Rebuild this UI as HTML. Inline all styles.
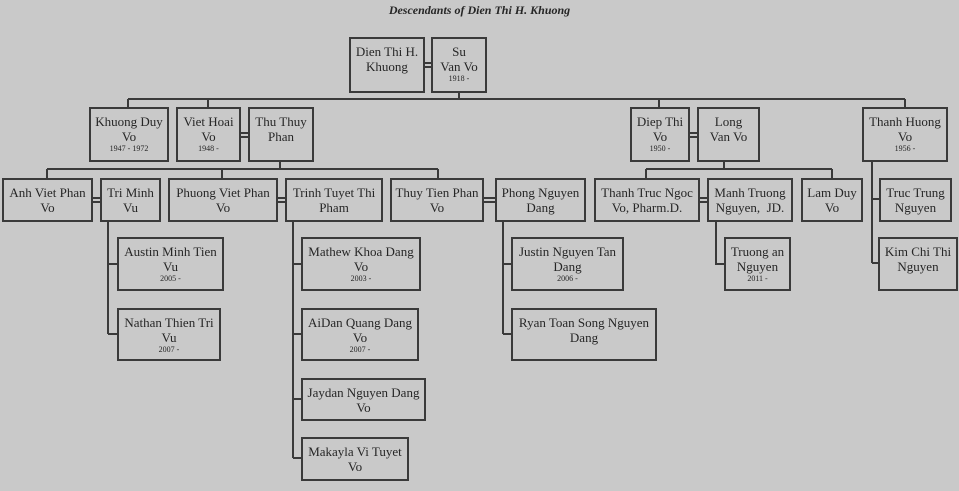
<!DOCTYPE html>
<html><head><meta charset="utf-8"><style>
html,body{margin:0;padding:0;}
body{width:959px;height:491px;background:#c9c9c9;position:relative;overflow:hidden;font-family:"Liberation Serif",serif;color:#262626;}
.b{position:absolute;box-sizing:border-box;border:2px solid #3a3a3a;text-align:center;font-size:13px;line-height:15px;padding-top:5px;}
.b small{display:block;font-size:8px;line-height:9px;}
.t{position:absolute;left:0;width:959px;top:3px;text-align:center;font-size:12px;font-weight:bold;font-style:italic;}
svg{position:absolute;left:0;top:0;}
</style></head><body>
<div class="t">Descendants of Dien Thi H. Khuong</div>
<svg width="959" height="491" stroke="#3a3a3a" stroke-width="2" fill="none">
<path d="M459 92V99M128 99H905M128 99V107M208 99V107M659 99V107M905 99V107"/>
<path d="M424 63H431M424 67H431"/>
<path d="M240 133H248M240 137H248"/>
<path d="M689 133H697M689 137H697"/>
<path d="M280 161V169M47 169H438M47 169V178M222 169V178M438 169V178"/>
<path d="M724 161V169M646 169H832M646 169V178M832 169V178"/>
<path d="M92 198H100M92 202H100"/>
<path d="M277 198H285M277 202H285"/>
<path d="M483 198H495M483 202H495"/>
<path d="M699 198H707M699 202H707"/>
<path d="M108 221V334M108 264H117M108 334H117"/>
<path d="M293 221V458M293 264H301M293 334H301M293 399H301M293 458H301"/>
<path d="M503 221V334M503 264H511M503 334H511"/>
<path d="M716 221V264H724"/>
<path d="M872 161V263M872 199H879M872 263H878"/>
</svg>
<div class="b" style="left:349px;top:37px;width:76px;height:56px;">Dien Thi H.<br>Khuong</div>
<div class="b" style="left:431px;top:37px;width:56px;height:56px;">Su<br>Van Vo<small>1918 -</small></div>
<div class="b" style="left:89px;top:107px;width:80px;height:55px;">Khuong Duy<br>Vo<small>1947 - 1972</small></div>
<div class="b" style="left:176px;top:107px;width:65px;height:55px;">Viet Hoai<br>Vo<small>1948 -</small></div>
<div class="b" style="left:248px;top:107px;width:66px;height:55px;">Thu Thuy<br>Phan</div>
<div class="b" style="left:630px;top:107px;width:60px;height:55px;">Diep Thi<br>Vo<small>1950 -</small></div>
<div class="b" style="left:697px;top:107px;width:63px;height:55px;">Long<br>Van Vo</div>
<div class="b" style="left:862px;top:107px;width:86px;height:55px;">Thanh Huong<br>Vo<small>1956 -</small></div>
<div class="b" style="left:2px;top:178px;width:91px;height:44px;">Anh Viet Phan<br>Vo</div>
<div class="b" style="left:100px;top:178px;width:61px;height:44px;">Tri Minh<br>Vu</div>
<div class="b" style="left:168px;top:178px;width:110px;height:44px;">Phuong Viet Phan<br>Vo</div>
<div class="b" style="left:285px;top:178px;width:98px;height:44px;">Trinh Tuyet Thi<br>Pham</div>
<div class="b" style="left:390px;top:178px;width:94px;height:44px;">Thuy Tien Phan<br>Vo</div>
<div class="b" style="left:495px;top:178px;width:91px;height:44px;">Phong Nguyen<br>Dang</div>
<div class="b" style="left:594px;top:178px;width:106px;height:44px;">Thanh Truc Ngoc<br>Vo, Pharm.D.</div>
<div class="b" style="left:707px;top:178px;width:86px;height:44px;">Manh Truong<br>Nguyen,&nbsp; JD.</div>
<div class="b" style="left:801px;top:178px;width:62px;height:44px;">Lam Duy<br>Vo</div>
<div class="b" style="left:879px;top:178px;width:73px;height:44px;">Truc Trung<br>Nguyen</div>
<div class="b" style="left:117px;top:237px;width:107px;height:54px;">Austin Minh Tien<br>Vu<small>2005 -</small></div>
<div class="b" style="left:117px;top:308px;width:104px;height:53px;">Nathan Thien Tri<br>Vu<small>2007 -</small></div>
<div class="b" style="left:301px;top:237px;width:120px;height:54px;">Mathew Khoa Dang<br>Vo<small>2003 -</small></div>
<div class="b" style="left:301px;top:308px;width:118px;height:53px;">AiDan Quang Dang<br>Vo<small>2007 -</small></div>
<div class="b" style="left:301px;top:378px;width:125px;height:43px;">Jaydan Nguyen Dang<br>Vo</div>
<div class="b" style="left:301px;top:437px;width:108px;height:44px;">Makayla Vi Tuyet<br>Vo</div>
<div class="b" style="left:511px;top:237px;width:113px;height:54px;">Justin Nguyen Tan<br>Dang<small>2006 -</small></div>
<div class="b" style="left:511px;top:308px;width:146px;height:53px;">Ryan Toan Song Nguyen<br>Dang</div>
<div class="b" style="left:724px;top:237px;width:67px;height:54px;">Truong an<br>Nguyen<small>2011 -</small></div>
<div class="b" style="left:878px;top:237px;width:80px;height:54px;">Kim Chi Thi<br>Nguyen</div>
</body></html>
